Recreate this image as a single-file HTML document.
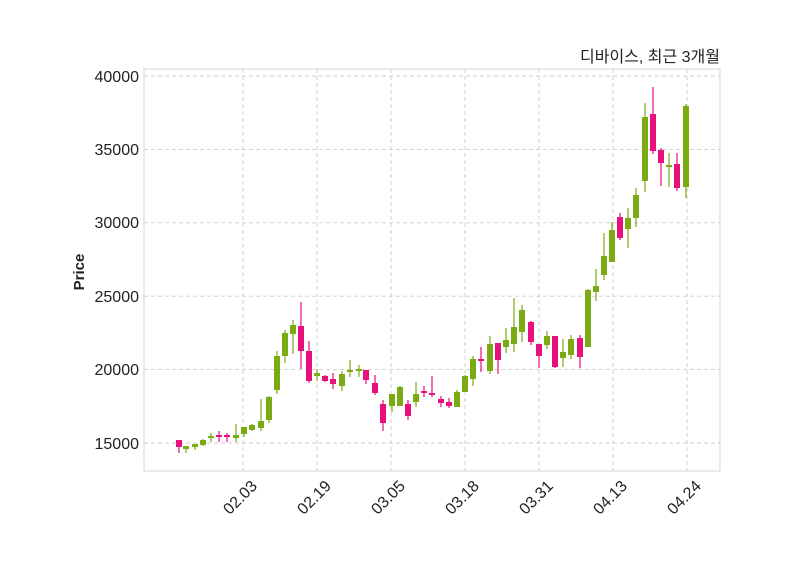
<!DOCTYPE html><html><head><meta charset="utf-8"><style>body{margin:0;background:#fff}svg{display:block}text{font-family:"Liberation Sans","Noto Sans CJK KR",sans-serif;fill:#222}</style></head><body>
<svg width="800" height="575" viewBox="0 0 800 575" xmlns="http://www.w3.org/2000/svg">
<rect x="144" y="69" width="576" height="402" fill="#fff" stroke="#ddd" stroke-width="1.2"/>
<g stroke="#ccc" stroke-dasharray="4,3" stroke-width="0.9">
<line x1="144" x2="720" y1="443" y2="443"/><line x1="144" x2="720" y1="369.6" y2="369.6"/><line x1="144" x2="720" y1="296.2" y2="296.2"/><line x1="144" x2="720" y1="222.8" y2="222.8"/><line x1="144" x2="720" y1="149.4" y2="149.4"/><line x1="144" x2="720" y1="76" y2="76"/>
<line y1="69" y2="471" x1="243" x2="243"/><line y1="69" y2="471" x1="317" x2="317"/><line y1="69" y2="471" x1="391" x2="391"/><line y1="69" y2="471" x1="465" x2="465"/><line y1="69" y2="471" x1="539" x2="539"/><line y1="69" y2="471" x1="613" x2="613"/><line y1="69" y2="471" x1="687" x2="687"/>
</g>
<g font-size="16" text-anchor="end">
<text x="139" y="449">15000</text><text x="139" y="375">20000</text><text x="139" y="302">25000</text><text x="139" y="228">30000</text><text x="139" y="155">35000</text><text x="139" y="82">40000</text>
</g>
<g font-size="16" text-anchor="end">
<text transform="translate(258,487) rotate(-45)">02.03</text>
<text transform="translate(332,487) rotate(-45)">02.19</text>
<text transform="translate(406,487) rotate(-45)">03.05</text>
<text transform="translate(480,487) rotate(-45)">03.18</text>
<text transform="translate(554,487) rotate(-45)">03.31</text>
<text transform="translate(628,487) rotate(-45)">04.13</text>
<text transform="translate(702,487) rotate(-45)">04.24</text>
</g>
<text transform="translate(84,272) rotate(-90)" font-size="15" font-weight="bold" text-anchor="middle">Price</text>
<text x="720" y="62" font-size="16" text-anchor="end">디바이스, 최근 3개월</text>
<path stroke="#7aab12" stroke-width="1.2" fill="none" d="M186 446V453M195 444V450M203 439V446M211 433V442M236 424V442M244 427V437M252 424V431M261 399V431M269 396V423M277 351V394M285 330V363M293 320V354M317 369V381M342 371V391M350 360V377M359 365V377M392 394V412M400 386V406M416 382V407M457 390V407M465 375V392M473 356V386M490 336V374M506 328V353M514 298V352M522 305V342M547 331V349M563 339V367M571 335V359M588 289V347M596 269V301M604 233V280M612 222V262M628 208V248M636 188V227M645 103V192M669 153V187M686 104V198"/>
<g fill="#7aab12">
<rect x="183" y="446" width="6" height="3"/><rect x="192" y="444" width="6" height="3"/><rect x="200" y="440" width="6" height="5"/><rect x="208" y="436" width="6" height="2"/><rect x="233" y="435" width="6" height="3"/><rect x="241" y="427" width="6" height="7"/><rect x="249" y="425" width="6" height="5"/><rect x="258" y="421" width="6" height="7"/><rect x="266" y="397" width="6" height="23"/><rect x="274" y="356" width="6" height="34"/><rect x="282" y="333" width="6" height="23"/><rect x="290" y="325" width="6" height="9"/><rect x="314" y="373" width="6" height="3"/><rect x="339" y="374" width="6" height="12"/><rect x="347" y="370" width="6" height="2"/><rect x="356" y="369" width="6" height="2"/><rect x="389" y="394" width="6" height="12"/><rect x="397" y="387" width="6" height="19"/><rect x="413" y="394" width="6" height="8"/><rect x="454" y="392" width="6" height="15"/><rect x="462" y="376" width="6" height="16"/><rect x="470" y="359" width="6" height="20"/><rect x="487" y="344" width="6" height="27"/><rect x="503" y="340" width="6" height="7"/><rect x="511" y="327" width="6" height="17"/><rect x="519" y="310" width="6" height="22"/><rect x="544" y="336" width="6" height="9"/><rect x="560" y="352" width="6" height="6"/><rect x="568" y="339" width="6" height="16"/><rect x="585" y="290" width="6" height="57"/><rect x="593" y="286" width="6" height="6"/><rect x="601" y="256" width="6" height="19"/><rect x="609" y="230" width="6" height="32"/><rect x="625" y="218" width="6" height="11"/><rect x="633" y="195" width="6" height="23"/><rect x="642" y="117" width="6" height="64"/><rect x="666" y="165" width="6" height="2"/><rect x="683" y="106" width="6" height="81"/>
</g>
<path stroke="#e8107a" stroke-width="1.2" fill="none" d="M179 440V453M219 431V442M227 433V442M301 302V369M309 341V383M325 375V382M333 373V389M366 370V384M375 375V395M383 400V431M408 400V420M424 386V397M432 376V397M441 396V407M449 398V408M481 347V372M498 343V374M531 321V345M539 344V368M555 336V368M580 335V368M620 213V240M653 87V154M661 148V186M677 153V191"/>
<g fill="#e8107a">
<rect x="176" y="440" width="6" height="7"/><rect x="216" y="435" width="6" height="2"/><rect x="224" y="435" width="6" height="2"/><rect x="298" y="326" width="6" height="25"/><rect x="306" y="351" width="6" height="30"/><rect x="322" y="376" width="6" height="5"/><rect x="330" y="379" width="6" height="5"/><rect x="363" y="370" width="6" height="10"/><rect x="372" y="383" width="6" height="10"/><rect x="380" y="404" width="6" height="19"/><rect x="405" y="404" width="6" height="12"/><rect x="421" y="391" width="6" height="2"/><rect x="429" y="393" width="6" height="2"/><rect x="438" y="399" width="6" height="4"/><rect x="446" y="402" width="6" height="4"/><rect x="478" y="359" width="6" height="2"/><rect x="495" y="343" width="6" height="17"/><rect x="528" y="322" width="6" height="20"/><rect x="536" y="344" width="6" height="12"/><rect x="552" y="336" width="6" height="31"/><rect x="577" y="338" width="6" height="19"/><rect x="617" y="217" width="6" height="21"/><rect x="650" y="114" width="6" height="37"/><rect x="658" y="150" width="6" height="13"/><rect x="674" y="164" width="6" height="24"/>
</g>
</svg></body></html>
